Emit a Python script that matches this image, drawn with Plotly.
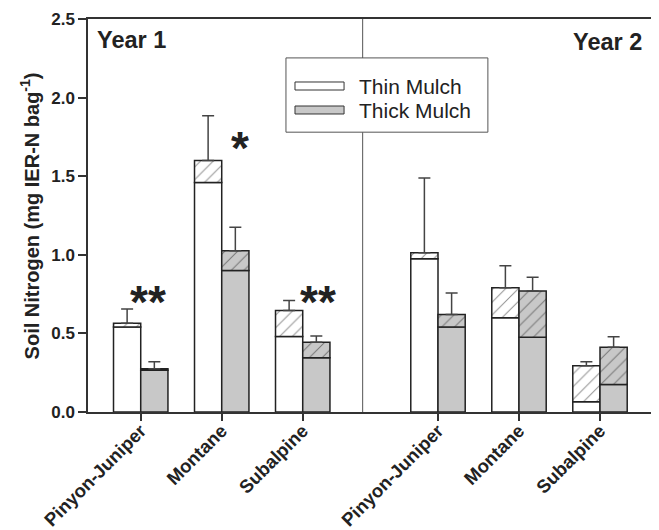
import plotly.graph_objects as go

# ---- data ----
categories = ["Pinyon-Juniper", "Montane", "Subalpine", "Pinyon-Juniper", "Montane", "Subalpine"]
positions = [0, 1, 2, 3.67, 4.67, 5.67]

thin_base = [0.54, 1.46, 0.48, 0.975, 0.60, 0.065]
thin_total = [0.565, 1.60, 0.645, 1.013, 0.79, 0.295]
thin_err = [0.09, 0.285, 0.065, 0.475, 0.14, 0.025]

thick_base = [0.265, 0.90, 0.345, 0.54, 0.475, 0.175]
thick_total = [0.275, 1.025, 0.443, 0.62, 0.77, 0.412]
thick_err = [0.045, 0.15, 0.04, 0.137, 0.087, 0.066]

signif_labels = ["**", "*", "**"]
signif_x = [0.086, 1.226, 2.183]
signif_y = [0.70, 1.68, 0.70]

GRAY = "#c8c8c8"
LINE = "#222222"
W = 0.336

fig = go.Figure()

thin_hatch = [t - b for t, b in zip(thin_total, thin_base)]
thick_hatch = [t - b for t, b in zip(thick_total, thick_base)]

fig.add_trace(go.Bar(x=positions, y=thin_base, width=W, offset=-W,
                     marker=dict(color="white", line=dict(color=LINE, width=1.5)),
                     showlegend=False, name="Thin Mulch"))
fig.add_trace(go.Bar(x=positions, y=thin_hatch, base=thin_base, width=W, offset=-W,
                     marker=dict(color="white", line=dict(color=LINE, width=1.5),
                                 pattern=dict(shape="/", fgcolor="#222", bgcolor="white",
                                              size=9, solidity=0.11)),
                     showlegend=False))
fig.add_trace(go.Bar(x=positions, y=thick_base, width=W, offset=0,
                     marker=dict(color=GRAY, line=dict(color=LINE, width=1.5)),
                     showlegend=False, name="Thick Mulch"))
fig.add_trace(go.Bar(x=positions, y=thick_hatch, base=thick_base, width=W, offset=0,
                     marker=dict(color=GRAY, line=dict(color=LINE, width=1.5),
                                 pattern=dict(shape="/", fgcolor="#222", bgcolor=GRAY,
                                              size=9, solidity=0.11)),
                     showlegend=False))

fig.add_trace(go.Scatter(x=[p - W / 2 for p in positions], y=thin_total, mode="markers",
                         marker=dict(size=1, color="rgba(0,0,0,0)"),
                         error_y=dict(type="data", symmetric=False, array=thin_err,
                                      arrayminus=[0] * 6, color="#444", thickness=1.5, width=6),
                         showlegend=False, hoverinfo="skip"))
fig.add_trace(go.Scatter(x=[p + W / 2 for p in positions], y=thick_total, mode="markers",
                         marker=dict(size=1, color="rgba(0,0,0,0)"),
                         error_y=dict(type="data", symmetric=False, array=thick_err,
                                      arrayminus=[0] * 6, color="#444", thickness=1.5, width=6),
                         showlegend=False, hoverinfo="skip"))

font_family = "Liberation Sans, Arial, sans-serif"

for lab, sx, sy in zip(signif_labels, signif_x, signif_y):
    fig.add_annotation(x=sx, y=sy, text=lab, showarrow=False, xanchor="center", yanchor="middle",
                       font=dict(family=font_family, size=46, color="#222", weight="bold"))

fig.add_annotation(x=0.0124, y=0.9466, xref="paper", yref="paper", text="Year 1", showarrow=False,
                   xanchor="left", yanchor="middle",
                   font=dict(family=font_family, size=23.5, color="#222", weight="bold"))
fig.add_annotation(x=0.9858, y=0.942, xref="paper", yref="paper", text="Year 2", showarrow=False,
                   xanchor="right", yanchor="middle",
                   font=dict(family=font_family, size=23.5, color="#222", weight="bold"))

fig.add_annotation(x=-0.103, y=0.5, xref="paper", yref="paper",
                   text="Soil Nitrogen (mg IER-N bag<sup>-1</sup>)", showarrow=False, textangle=-90,
                   xanchor="center", yanchor="middle",
                   font=dict(family=font_family, size=20, color="#222", weight="bold"))

fig.add_shape(type="line", x0=2.74, x1=2.74, y0=0, y1=1, xref="x", yref="paper",
              line=dict(color="#555", width=1))

fig.add_shape(type="rect", x0=0.351, x1=0.709, y0=0.712, y1=0.901, xref="paper", yref="paper",
              line=dict(color="#555", width=1), fillcolor="white")
fig.add_shape(type="rect", x0=0.367, x1=0.454, y0=0.8193, y1=0.8397, xref="paper", yref="paper",
              line=dict(color="#333", width=1), fillcolor="white")
fig.add_shape(type="rect", x0=0.367, x1=0.454, y0=0.7583, y1=0.7786, xref="paper", yref="paper",
              line=dict(color="#333", width=1), fillcolor=GRAY)
fig.add_annotation(x=0.477, y=0.8295, xref="paper", yref="paper", text="Thin Mulch", showarrow=False,
                   xanchor="left", yanchor="middle", font=dict(family=font_family, size=21, color="#222"))
fig.add_annotation(x=0.477, y=0.7684, xref="paper", yref="paper", text="Thick Mulch", showarrow=False,
                   xanchor="left", yanchor="middle", font=dict(family=font_family, size=21, color="#222"))

fig.update_layout(
    width=651, height=522,
    margin=dict(l=80, r=7, t=11, b=118, autoexpand=False),
    barmode="overlay",
    plot_bgcolor="white", paper_bgcolor="white",
    font=dict(family=font_family, color="#222"),
    xaxis=dict(range=[-0.651, 6.312], tickvals=positions, ticktext=categories, tickangle=-45,
               ticks="outside", ticklen=7, tickwidth=1.5, tickcolor="#333",
               ticklabelstandoff=-8,
               showline=True, linecolor="#333", linewidth=1.5, mirror=True,
               showgrid=False, zeroline=False, automargin=False,
               tickfont=dict(family=font_family, size=18.5, color="#222", weight="bold")),
    yaxis=dict(range=[0, 2.5], tickvals=[0, 0.5, 1.0, 1.5, 2.0, 2.5], tickformat=".1f",
               ticks="outside", ticklen=8, tickwidth=1.5, tickcolor="#333",
               showline=True, linecolor="#333", linewidth=1.5, mirror=True,
               showgrid=False, zeroline=False, automargin=False,
               tickfont=dict(family=font_family, size=17, color="#222", weight="bold")),
)

fig.write_html("out.html")
